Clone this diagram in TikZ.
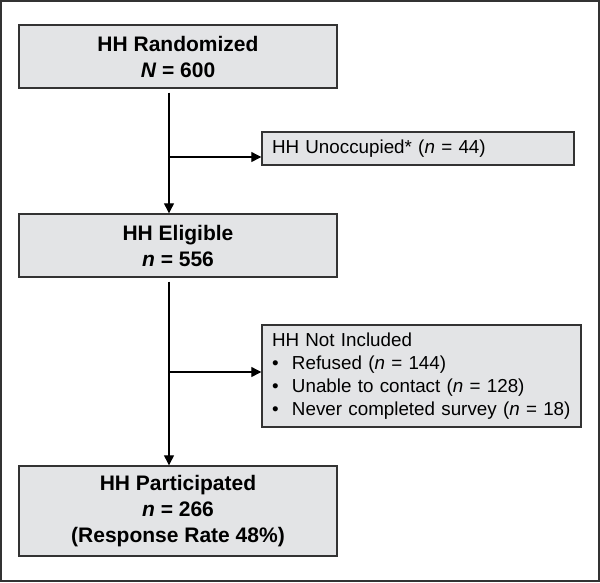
\documentclass[tikz,border=0pt]{standalone}
\usepackage{fontspec}
\setmainfont{Liberation Sans}
\usetikzlibrary{arrows.meta}
\definecolor{boxgrey}{HTML}{E3E4E6}
\definecolor{edgegrey}{HTML}{333333}
\begin{document}
\begin{tikzpicture}[x=1pt,y=-1pt,
  box/.style={draw=edgegrey, line width=1.4pt, fill=boxgrey, inner sep=0pt},
  mainbox/.style={box, minimum width=318pt, align=center, font=\fontsize{21}{26}\selectfont\bfseries},
  sidebox/.style={box, align=left, inner xsep=10pt, font=\fontsize{18.8}{23}\selectfont},
  conn/.style={line width=1.2pt, -{Triangle[length=10pt,width=10pt]}}]
\path[use as bounding box] (0,0) rectangle (600,582);
\draw[line width=2pt, draw=edgegrey] (1,1) rectangle (599,581);
\node[mainbox, minimum height=63pt] (rand) at (178,56.5) {HH Randomized\\\textit{N} = 600};
\node[mainbox, minimum height=63pt] (elig) at (178,245.5) {HH Eligible\\\textit{n} = 556};
\node[mainbox, minimum height=90pt] (part) at (178,511) {HH Participated\\\textit{n} = 266\\(Response Rate 48\%)};
\node[sidebox, minimum height=33pt, text width=292pt] (unocc) at (418,148.5) {HH Unoccupied* (\textit{n} = 44)};
\node[sidebox, minimum height=102pt, text width=299pt] (notinc) at (421.5,376) {HH Not Included\\
\makebox[20pt][l]{\textbullet}Refused (\textit{n} = 144)\\
\makebox[20pt][l]{\textbullet}Unable to contact (\textit{n} = 128)\\
\makebox[20pt][l]{\textbullet}Never completed survey (\textit{n} = 18)};
\coordinate (j1) at (169,157);
\coordinate (j2) at (169,372);
\draw[conn] ([xshift=-9pt,yshift=-4pt]rand.south) -- ([xshift=-9pt]elig.north);
\draw[conn] (j1) -- (j1 -| unocc.west);
\draw[conn] ([xshift=-9pt,yshift=-4pt]elig.south) -- ([xshift=-9pt]part.north);
\draw[conn] (j2) -- (j2 -| notinc.west);
\end{tikzpicture}
\end{document}
